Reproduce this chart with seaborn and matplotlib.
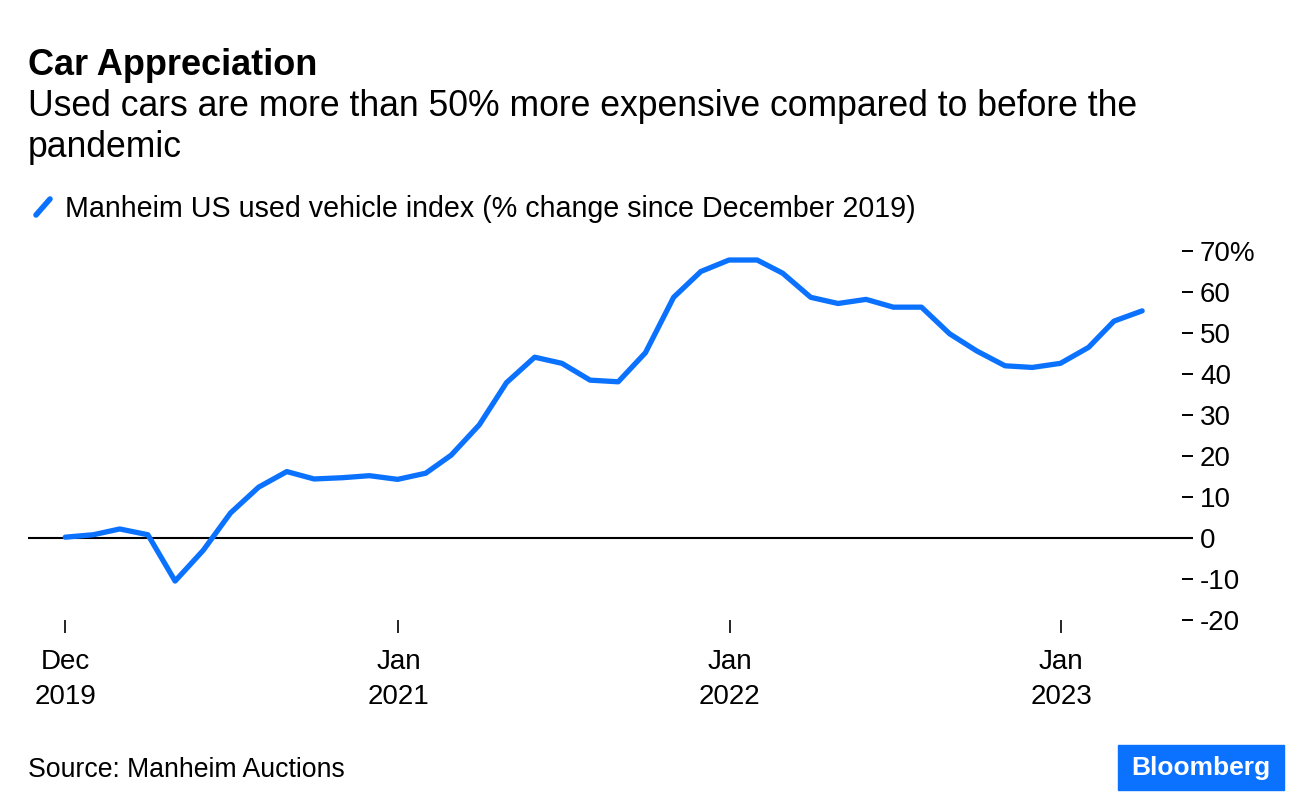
import pandas as pd
import matplotlib.pyplot as plt
from matplotlib.lines import Line2D
from matplotlib.patches import Rectangle
import seaborn as sns

# Monthly Manheim index, % change since Dec 2019 (month-end readings)
months = pd.date_range("2019-12-01", periods=40, freq="MS") + pd.offsets.MonthEnd(0)
pct_change = [
    0.2, 0.8, 2.2, 0.8, -10.5, -3.0, 6.1, 12.4, 16.2, 14.4,
    14.7, 15.2, 14.3, 15.8, 20.2, 27.6, 37.9, 44.1, 42.6, 38.5,
    38.1, 45.2, 58.7, 65.0, 67.8, 67.8, 64.6, 58.7, 57.2, 58.2,
    56.3, 56.3, 49.8, 45.6, 42.0, 41.6, 42.6, 46.5, 52.9, 55.4,
]
tick_dates = ["2019-12-31", "2021-01-01", "2022-01-01", "2023-01-01"]
tick_labels = ["Dec\n2019", "Jan\n2021", "Jan\n2022", "Jan\n2023"]
y_ticks = [-20, -10, 0, 10, 20, 30, 40, 50, 60, 70]
y_labels = ["-20", "-10", "0", "10", "20", "30", "40", "50", "60", "70%"]

df = pd.DataFrame({"date": months, "pct": pct_change})

blue = "#0b72ff"

sns.set_style("white")
plt.rcParams["font.family"] = ["Liberation Sans", "DejaVu Sans"]
plt.rcParams["text.color"] = "black"

fig = plt.figure(figsize=(12.96, 8.06), dpi=100)
ax = fig.add_axes([28 / 1296, 186 / 806, 1165 / 1296, 369 / 806])

sns.lineplot(data=df, x="date", y="pct", color=blue, linewidth=3.8, ax=ax)
ax.axhline(0, color="black", linewidth=1.5, zorder=1)

# x range padded a little on both sides like the original
ax.set_xlim(df.date.iloc[0] - pd.Timedelta(days=41), df.date.iloc[-1] + pd.Timedelta(days=56))
ax.set_ylim(-20, 70)

ax.set_xticks(pd.to_datetime(tick_dates))
ax.set_xticklabels(tick_labels, fontsize=20, linespacing=1.45, color="black")
ax.set_yticks(y_ticks)
ax.set_yticklabels(y_labels, fontsize=20, ha="left", color="black")

ax.yaxis.tick_right()
ax.tick_params(axis="y", right=True, direction="in", length=8, width=1.4, pad=5, colors="black")
ax.tick_params(axis="x", bottom=True, direction="out", length=9, width=1.2, pad=12, colors="black")
ax.set_xlabel("")
ax.set_ylabel("")
for s in ax.spines.values():
    s.set_visible(False)

# Titles
fig.text(28 / 1296, 1 - 75 / 806, "Car Appreciation", fontsize=26, fontweight="bold", va="baseline")
fig.text(28 / 1296, 1 - 116 / 806,
         "Used cars are more than 50% more expensive compared to before the",
         fontsize=25.6, va="baseline")
fig.text(28 / 1296, 1 - 157 / 806, "pandemic", fontsize=25.6, va="baseline")

# Legend entry
fig.add_artist(Line2D([36 / 1296, 50 / 1296], [1 - 215 / 806, 1 - 199 / 806],
                      color=blue, linewidth=4, transform=fig.transFigure))
fig.text(65 / 1296, 1 - 217 / 806,
         "Manheim US used vehicle index (% change since December 2019)",
         fontsize=20.6, va="baseline")

# Footer
fig.text(28 / 1296, 1 - 777 / 806, "Source: Manheim Auctions", fontsize=19.2, va="baseline")
fig.add_artist(Rectangle((1118 / 1296, 1 - 790 / 806), 166 / 1296, 45 / 806,
                         color=blue, transform=fig.transFigure))
fig.text(1201 / 1296, 1 - 768 / 806, "Bloomberg", color="white", fontsize=19,
         fontweight="bold", ha="center", va="center")

fig.savefig("out.png", dpi=100, facecolor="white")
